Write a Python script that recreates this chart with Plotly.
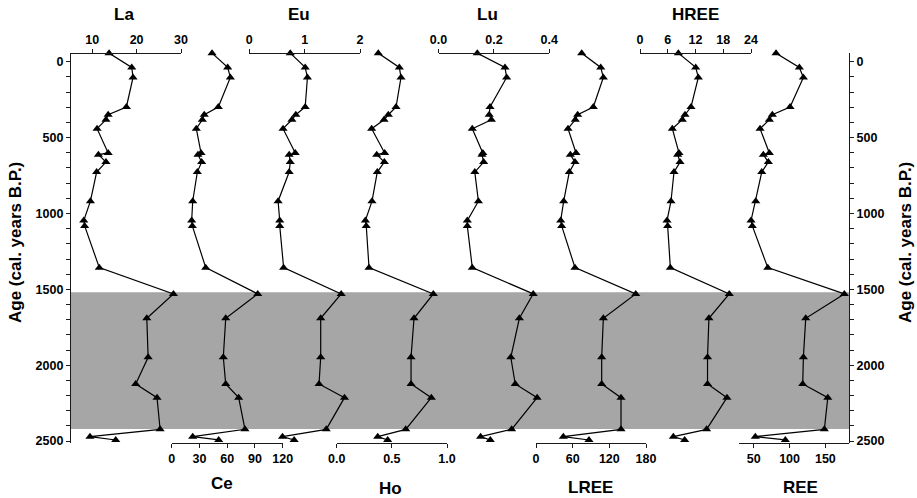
import plotly.graph_objects as go

# ---------------- data ----------------
age = [-57, 37, 103, 298, 349, 382, 441, 601, 612, 661, 727, 919, 1047, 1082,
       1357, 1530, 1691, 1948, 2124, 2214, 2423, 2471, 2493]

la = [13.8, 18.9, 19.2, 17.7, 13.6, 13.1, 11.1, 13.6, 11.4, 13.1, 11.0, 9.6, 8.1, 8.3,
      11.6, 28.3, 22.3, 22.6, 19.8, 24.6, 25.3, 9.5, 15.3]
ce = [43.6, 60.5, 63.4, 50.4, 35.2, 33.1, 26.6, 31.7, 28.4, 32.4, 27.7, 22.7, 21.6, 22.3,
      36.8, 93.0, 58.4, 55.8, 58.4, 72.4, 79.2, 22.7, 50.8]
eu = [0.74, 1.01, 1.05, 1.01, 0.84, 0.77, 0.61, 0.83, 0.72, 0.74, 0.72, 0.52, 0.55, 0.55,
      0.62, 1.66, 1.29, 1.29, 1.26, 1.72, 1.39, 0.60, 0.81]
ho = [0.377, 0.568, 0.583, 0.538, 0.468, 0.429, 0.317, 0.435, 0.363, 0.432, 0.368, 0.320,
      0.260, 0.268, 0.293, 0.876, 0.701, 0.674, 0.674, 0.858, 0.626, 0.372, 0.462]
lu = [0.140, 0.240, 0.246, 0.186, 0.183, 0.191, 0.122, 0.160, 0.157, 0.163, 0.131, 0.144,
      0.104, 0.104, 0.122, 0.342, 0.292, 0.261, 0.277, 0.356, 0.264, 0.152, 0.187]
lree = [74.8, 105.9, 110.2, 93.8, 68.2, 64.3, 52.4, 65.5, 56.2, 63.8, 54.5, 45.3, 40.4, 42.0,
        63.8, 163.2, 110.2, 107.5, 107.5, 139.1, 139.1, 44.7, 86.7]
hree = [8.29, 12.04, 12.61, 11.03, 9.73, 9.15, 6.99, 8.43, 8.15, 8.65, 7.35, 6.70, 5.84, 5.98,
        6.56, 19.3, 14.9, 14.6, 14.6, 18.8, 14.4, 7.21, 9.66]
ree = [81.1, 113.7, 119.3, 100.7, 76.0, 71.8, 58.8, 71.8, 63.4, 70.4, 61.2, 52.8, 46.2, 48.0,
       69.6, 176.5, 122.6, 119.3, 118.4, 153.4, 148.6, 52.2, 94.1]

names = ["La", "Ce", "Eu", "Ho", "Lu", "LREE", "HREE", "REE"]
series = [la, ce, eu, ho, lu, lree, hree, ree]
x_ranges = [[5, 30], [0, 120], [0, 2], [0, 1], [0, 0.4], [0, 180], [0, 24], [29, 183]]
x_ticks = [[10, 20, 30], [0, 30, 60, 90, 120], [0, 1, 2], [0, 0.5, 1.0], [0, 0.2, 0.4],
           [0, 60, 120, 180], [0, 6, 12, 18, 24], [50, 100, 150]]
x_ticktext = [["10", "20", "30"], ["0", "30", "60", "90", "120"], ["0", "1", "2"],
              ["0.0", "0.5", "1.0"], ["0.0", "0.2", "0.4"], ["0", "60", "120", "180"],
              ["0", "6", "12", "18", "24"], ["50", "100", "150"]]
sides = ["top", "bottom", "top", "bottom", "top", "bottom", "top", "bottom"]

age_range = [2513, -58]
band = [1520, 2420]
y_ticks = [0, 500, 1000, 1500, 2000, 2500]
y_title = "Age (cal. years B.P.)"

# ---------------- layout geometry (pixels) ----------------
W, H = 917, 498
L, R, T, B = 70, 68, 53, 55
PW, PH = W - L - R, H - T - B
axis_px = [(70, 181), (171.7, 282.7), (249.3, 360), (336.7, 447), (438.5, 549.3),
           (536, 646), (640, 751), (738.7, 849)]
title_px = [(124, 15), (221.7, 483.5), (299, 15), (390, 488.5), (487.7, 15),
            (590.7, 487), (695, 15), (800.7, 487)]
ytitle_px = [(15, 243), (905, 243)]


def px2paper_x(px):
    return (px - L) / PW


def px2paper_y(py):
    return (H - B - py) / PH


def age2paper(a):
    return (age_range[0] - a) / (age_range[0] - age_range[1])


FONT = "Liberation Sans, Arial, sans-serif"
AXC = "#1a1a1a"

fig = go.Figure()

layout = dict(
    template="none",
    width=W, height=H,
    margin=dict(l=L, r=R, t=T, b=B, pad=0, autoexpand=False),
    paper_bgcolor="white", plot_bgcolor="rgba(0,0,0,0)",
    showlegend=False,
    font=dict(family=FONT, size=12.5, color="black"),
)

for i, (nm, vals) in enumerate(zip(names, series)):
    ax = "x" if i == 0 else f"x{i+1}"
    key = "xaxis" if i == 0 else f"xaxis{i+1}"
    fig.add_trace(go.Scatter(
        x=vals, y=age, xaxis=ax, yaxis="y", mode="lines+markers",
        line=dict(color="black", width=1.2),
        marker=dict(symbol="triangle-up", size=8, color="black"),
        cliponaxis=False, name=nm,
    ))
    d0, d1 = axis_px[i]
    layout[key] = dict(
        domain=[max(0, px2paper_x(d0)), min(1, px2paper_x(d1))],
        range=x_ranges[i], anchor="free", side=sides[i],
        position=1 if sides[i] == "top" else 0,
        automargin=False,
        showline=True, linecolor=AXC, linewidth=1.2,
        ticks="outside", ticklen=4, tickwidth=1.2, tickcolor=AXC,
        tickmode="array", tickvals=x_ticks[i], ticktext=x_ticktext[i],
        tickfont=dict(family=FONT, size=12.5, weight="bold", color="black"),
        showgrid=False, zeroline=False,
    )

yax_common = dict(
    range=age_range, domain=[0, 1], anchor="free", automargin=False,
    showline=True, linecolor=AXC, linewidth=1.2,
    ticks="outside", ticklen=4, tickwidth=1.2, tickcolor=AXC,
    tickmode="array", tickvals=y_ticks,
    minor=dict(tickmode="linear", tick0=0, dtick=100, ticks="outside", ticklen=4,
               tickwidth=1.2, tickcolor=AXC),
    tickfont=dict(family=FONT, size=12.5, weight="bold", color="black"),
    showgrid=False, zeroline=False,
)
layout["yaxis"] = dict(yax_common, side="left", position=0)
layout["yaxis2"] = dict(yax_common, side="right", position=1, overlaying="y")

fig.update_layout(**layout)

# invisible trace to keep the right axis drawn
fig.add_trace(go.Scatter(x=[None], y=[None], xaxis="x", yaxis="y2", showlegend=False,
                         hoverinfo="skip"))

fig.add_shape(type="rect", xref="paper", yref="paper", x0=0, x1=1,
              y0=age2paper(band[1]), y1=age2paper(band[0]),
              fillcolor="#a6a6a6", line=dict(width=0), layer="below")

for i, nm in enumerate(names):
    tx, ty = title_px[i]
    fig.add_annotation(text=nm, xref="paper", yref="paper",
                       x=px2paper_x(tx), y=px2paper_y(ty), showarrow=False,
                       xanchor="center", yanchor="middle",
                       font=dict(family=FONT, size=17, weight="bold", color="black"))

for tx, ty in ytitle_px:
    fig.add_annotation(text=y_title, xref="paper", yref="paper", textangle=-90,
                       x=px2paper_x(tx), y=px2paper_y(ty), showarrow=False,
                       xanchor="center", yanchor="middle",
                       font=dict(family=FONT, size=17, weight="bold", color="black"))

fig.write_html("out.html",
               config={"displayModeBar": False},
               post_script="document.body.style.margin='0';document.body.style.padding='0';")
